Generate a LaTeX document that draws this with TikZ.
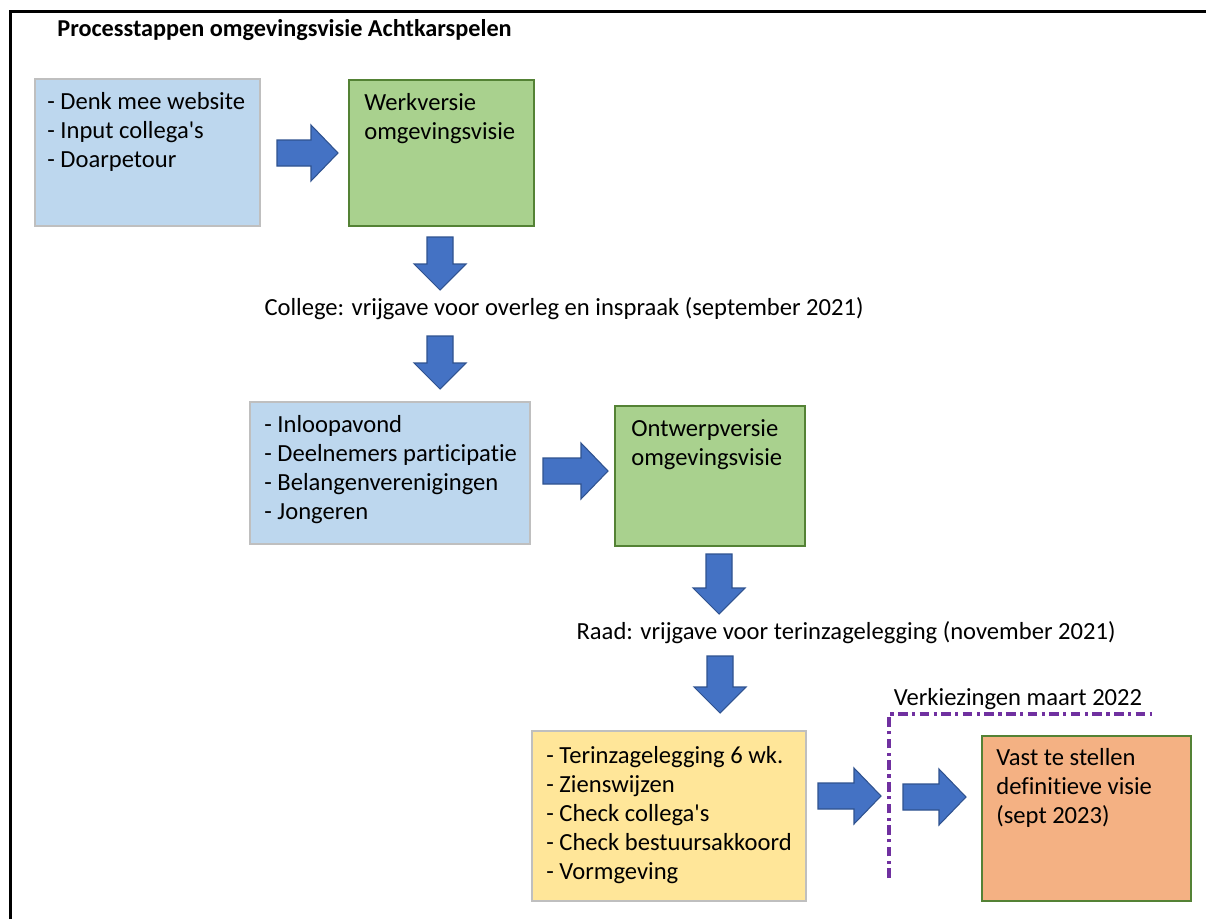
\documentclass[tikz,border=0pt]{standalone}
\usepackage{fontspec}
\setmainfont{Carlito}[Ligatures={TeXOff,CommonOff}]
\usepackage{xcolor}
\usepackage{tikz}
\usetikzlibrary{calc}
\usetikzlibrary{positioning}

\definecolor{lichtblauw}{HTML}{BDD7EE}
\definecolor{lichtgroen}{HTML}{A9D18E}
\definecolor{donkergroen}{HTML}{548235}
\definecolor{lichtgeel}{HTML}{FFE699}
\definecolor{oranje}{HTML}{F4B183}
\definecolor{randgrijs}{HTML}{BFBFBF}
\definecolor{pijlblauw}{HTML}{4472C4}
\definecolor{pijlrand}{HTML}{2F528F}
\definecolor{paars}{HTML}{7030A0}

\newcommand{\pijlrechts}[3]{% begin x, punt x, midden y
	\draw[blokpijl] (#1,#3-13) -- (#2-27,#3-13) -- (#2-27,#3-28) -- (#2,#3) -- (#2-27,#3+28) -- (#2-27,#3+13) -- (#1,#3+13) -- cycle;}
\newcommand{\pijlomlaag}[3]{% midden x, begin y, punt y
	\draw[blokpijl] (#1-13,#2) -- (#1+13,#2) -- (#1+13,#3-26) -- (#1+26,#3-26) -- (#1,#3) -- (#1-26,#3-26) -- (#1-13,#3-26) -- cycle;}

\begin{document}
\begin{tikzpicture}[x=0.02cm,y=-0.02cm,
		blok/.style={rectangle,line width=1.1pt,inner sep=0pt,anchor=north west},
		tekst/.style={anchor=north west,inner sep=0pt,align=left,font=\fontsize{14}{16.5}\selectfont},
		label/.style={inner sep=0pt,font=\fontsize{14}{16.5}\selectfont},
		blokpijl/.style={fill=pijlblauw,draw=pijlrand,line width=0.6pt,line join=miter}]
	\useasboundingbox (0,0) rectangle (1206,919);
	\fill[white] (0,0) rectangle (1206,919);
	% kader
	\draw[line width=1.7pt] (10.5,919) -- (10.5,11.5) -- (1206,11.5);
	\node[anchor=west,inner sep=0pt,font=\fontsize{13.8}{16}\selectfont\bfseries] (titel) at (57,30) {Processtappen omgevingsvisie Achtkarspelen};
	
	% stap 1
	\node[blok,fill=lichtblauw,draw=randgrijs,minimum width=4.5cm,minimum height=2.94cm] (invoer) at (34,78) {};
	\node[tekst] at ([shift={(13,14)}]invoer.north west) {- Denk mee website\\- Input collega's\\- Doarpetour};
	\node[blok,fill=lichtgroen,draw=donkergroen,minimum width=3.7cm,minimum height=2.92cm] (werkversie) at (348,79) {};
	\node[tekst] at ([shift={(16,14)}]werkversie.north west) {Werkversie\\omgevingsvisie};
	\pijlrechts{277}{338}{153}
	
	\pijlomlaag{440}{237}{290}
	\node[label] (college) at (564,309) {College: vrijgave voor overleg en inspraak (september 2021)};
	\pijlomlaag{440}{336}{389}
	
	% stap 2
	\node[blok,fill=lichtblauw,draw=randgrijs,minimum width=5.6cm,minimum height=2.84cm] (participatie) at (249,401) {};
	\node[tekst] at ([shift={(15,14)}]participatie.north west) {- Inloopavond\\- Deelnemers participatie\\- Belangenverenigingen\\- Jongeren};
	\node[blok,fill=lichtgroen,draw=donkergroen,minimum width=3.8cm,minimum height=2.8cm] (ontwerpversie) at (614,405) {};
	\node[tekst] at ([shift={(17,14)}]ontwerpversie.north west) {Ontwerpversie\\omgevingsvisie};
	\pijlrechts{543}{608}{471}
	
	\pijlomlaag{719}{554}{614}
	\node[label] (raad) at (846,633) {Raad: vrijgave voor terinzagelegging (november 2021)};
	\pijlomlaag{720}{656}{713}
	
	% stap 3
	\node[blok,fill=lichtgeel,draw=randgrijs,minimum width=5.48cm,minimum height=3.4cm] (inzage) at (531,730) {};
	\node[tekst] at ([shift={(15,16)}]inzage.north west) {- Terinzagelegging 6 wk.\\- Zienswijzen\\- Check collega's\\- Check bestuursakkoord\\- Vormgeving};
	\node[blok,fill=oranje,draw=donkergroen,minimum width=4.18cm,minimum height=3.3cm] (definitief) at (981,735) {};
	\node[tekst] at ([shift={(15,13)}]definitief.north west) {Vast te stellen\\definitieve visie\\(sept 2023)};
	\pijlrechts{818}{881}{796}
	\pijlrechts{903}{966}{797}
	
	% verkiezingen
	\draw[paars,line width=1.8pt,dash pattern=on 5.5pt off 2.5pt on 1.8pt off 2.5pt] (889,878) -- (889,714) -- (1152,714);
	\node[label] (verkiezingen) at (1018,699) {Verkiezingen maart 2022};
\end{tikzpicture}
\end{document}
